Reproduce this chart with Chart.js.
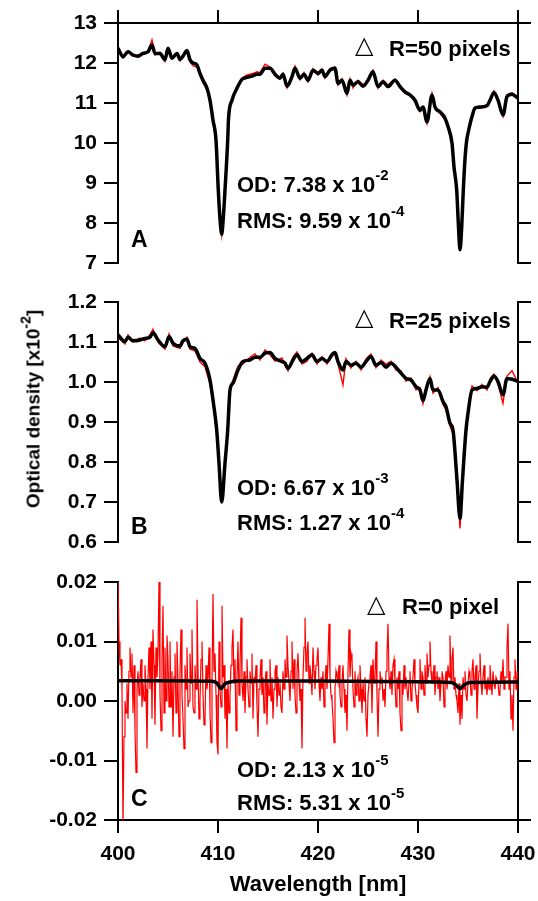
<!DOCTYPE html>
<html>
<head>
<meta charset="utf-8">
<script src="https://cdn.jsdelivr.net/npm/chart.js@4.4.1/dist/chart.umd.min.js"></script>
<style>
  html, body { margin: 0; padding: 0; background: #fff; }
  #fig { position: relative; width: 538px; height: 901px; overflow: hidden; }
  #fig canvas { position: absolute; left: 0; top: 0; }
  .lbl { position: absolute; font-family: 'Liberation Sans', Arial, sans-serif; font-weight: bold;
         font-size: 22px; line-height: 22px; white-space: nowrap; color: #000; }
  .lbl sup { font-size: 15px; position: relative; top: -12px; vertical-align: baseline; line-height: 0; }
  .tri { position: absolute; font-family: 'DejaVu Sans', sans-serif; font-size: 24px; line-height: 24px; color: #000; }
  .big { font-size: 23px; line-height: 23px; }
  .ytitle { font-size: 19px; line-height: 19px; transform: translate(-50%, -50%) rotate(-90deg); }
  .ytitle sup { font-size: 14px; top: -9px; }
</style>
</head>
<body>
<div id="fig">
  <canvas id="panelA" width="538" height="901"></canvas>
  <canvas id="panelB" width="538" height="901"></canvas>
  <canvas id="panelC" width="538" height="901"></canvas>

  <div class="tri" style="left:355px; top:33px">△</div>
  <div class="lbl" style="left:389px; top:38px">R=50 pixels</div>
  <div class="lbl" style="left:237px; top:174px">OD: 7.38 x 10<sup>-2</sup></div>
  <div class="lbl" style="left:237px; top:210px">RMS: 9.59 x 10<sup>-4</sup></div>
  <div class="lbl big" style="left:131px; top:228px">A</div>

  <div class="tri" style="left:355px; top:305px">△</div>
  <div class="lbl" style="left:389px; top:310px">R=25 pixels</div>
  <div class="lbl" style="left:237px; top:477px">OD: 6.67 x 10<sup>-3</sup></div>
  <div class="lbl" style="left:237px; top:512px">RMS: 1.27 x 10<sup>-4</sup></div>
  <div class="lbl big" style="left:131px; top:515px">B</div>

  <div class="tri" style="left:367px; top:592px">△</div>
  <div class="lbl" style="left:402px; top:596px">R=0 pixel</div>
  <div class="lbl" style="left:237px; top:759px">OD: 2.13 x 10<sup>-5</sup></div>
  <div class="lbl" style="left:237px; top:792px">RMS: 5.31 x 10<sup>-5</sup></div>
  <div class="lbl big" style="left:131px; top:787px">C</div>

  <div class="lbl ytitle" style="left:33px; top:409px">Optical density [x10<sup>-2</sup>]</div>
</div>

<script>
/* Panel A : R = 50 pixels (fit = black, measured = red) */
const waveA = [400.0, 400.5, 401.0, 401.5, 402.0, 402.5, 403.0, 403.4, 403.7, 404.2,
  404.7, 405.0, 405.4, 405.9, 406.2, 406.5, 406.9, 407.2, 407.5, 407.9,
  408.2, 408.5, 408.9, 409.2, 409.5, 409.8, 410.03, 410.2, 410.37, 410.52,
  410.7, 410.97, 411.05, 411.4, 411.9, 412.4, 412.9, 413.4, 413.9, 414.2,
  414.7, 415.2, 415.7, 416.2, 416.5, 416.9, 417.4, 417.7, 418.2, 418.6,
  419.0, 419.5, 420.0, 420.4, 420.7, 421.2, 421.7, 422.0, 422.4, 422.9,
  423.2, 423.5, 424.0, 424.5, 425.0, 425.5, 426.0, 426.5, 427.0, 427.7,
  428.2, 428.7, 429.2, 429.7, 430.2, 430.5, 430.9, 431.4, 431.7, 432.2,
  432.7, 433.0, 433.4, 433.6, 433.87, 434.05, 434.2, 434.37, 434.53, 434.7,
  434.87, 435.05, 435.4, 435.7, 436.2, 436.9, 437.2, 437.6, 438.0, 438.5,
  438.9, 439.4, 440.0];
const blackA = [12.37, 12.16, 12.28, 12.20, 12.17, 12.24, 12.28, 12.45, 12.24, 12.24,
  12.08, 12.37, 12.12, 12.24, 12.09, 12.17, 12.31, 12.08, 12.00, 11.95,
  11.74, 11.57, 11.37, 11.07, 10.57, 10.07, 8.82, 8.10, 7.72, 8.10,
  8.82, 10.07, 10.60, 11.07, 11.37, 11.59, 11.64, 11.67, 11.72, 11.72,
  11.87, 11.87, 11.72, 11.62, 11.72, 11.42, 11.66, 11.87, 11.62, 11.72,
  11.57, 11.82, 11.74, 11.82, 11.66, 11.82, 11.87, 11.49, 11.57, 11.24,
  11.57, 11.45, 11.53, 11.42, 11.57, 11.78, 11.41, 11.53, 11.41, 11.57,
  11.41, 11.28, 11.20, 11.07, 10.82, 10.90, 10.53, 11.20, 10.90, 10.78,
  10.62, 10.41, 10.00, 9.40, 8.82, 7.90, 7.33, 7.90, 8.82, 9.60,
  10.07, 10.30, 10.66, 10.87, 10.90, 10.93, 11.07, 11.26, 11.07, 10.70,
  11.16, 11.22, 11.12];
const redA = [12.33, 12.12, 12.30, 12.17, 12.20, 12.21, 12.30, 12.58, 12.20, 12.27,
  12.04, 12.33, 12.15, 12.20, 12.05, 12.20, 12.27, 12.03, 11.93, 11.90,
  11.68, 11.50, 11.33, 11.03, 10.52, 10.02, 8.78, 8.05, 7.70, 8.12,
  8.85, 10.10, 10.65, 11.12, 11.42, 11.62, 11.70, 11.73, 11.78, 11.76,
  11.97, 11.90, 11.68, 11.66, 11.75, 11.38, 11.70, 11.92, 11.58, 11.76,
  11.53, 11.86, 11.70, 11.85, 11.62, 11.86, 11.90, 11.45, 11.61, 11.20,
  11.60, 11.38, 11.57, 11.46, 11.53, 11.82, 11.37, 11.57, 11.45, 11.60,
  11.38, 11.24, 11.22, 11.03, 10.78, 10.86, 10.49, 11.24, 10.86, 10.74,
  10.58, 10.38, 9.96, 9.36, 8.80, 7.86, 7.30, 7.88, 8.85, 9.64,
  10.10, 10.34, 10.70, 10.90, 10.86, 10.97, 11.03, 11.30, 11.03, 10.66,
  11.20, 11.26, 11.10];

/* Panel B : R = 25 pixels */
const waveB = [400.0, 400.7, 401.0, 401.5, 402.2, 402.7, 403.2, 403.5, 404.0, 404.7,
  405.1, 405.5, 406.2, 406.5, 406.9, 407.2, 407.7, 408.2, 408.7, 409.2,
  409.5, 409.87, 410.1, 410.37, 410.7, 410.97, 411.2, 411.5, 412.0, 412.5,
  413.2, 413.7, 414.2, 414.7, 415.2, 415.7, 416.4, 416.7, 417.0, 417.5,
  417.9, 418.4, 418.9, 419.4, 419.9, 420.4, 420.9, 421.4, 421.7, 422.0,
  422.5, 422.8, 423.3, 423.8, 424.3, 424.8, 425.3, 425.8, 426.3, 426.8,
  427.3, 427.8, 428.3, 428.8, 429.3, 429.8, 430.2, 430.5, 430.8, 431.2,
  431.5, 432.0, 432.5, 432.8, 433.2, 433.5, 433.9, 434.2, 434.45, 434.8,
  435.0, 435.4, 435.9, 436.4, 436.9, 437.2, 437.6, 438.0, 438.5, 438.9,
  439.4, 440.0];
const blackB = [1.118, 1.101, 1.112, 1.103, 1.105, 1.109, 1.112, 1.123, 1.105, 1.088,
  1.114, 1.097, 1.090, 1.103, 1.107, 1.088, 1.084, 1.059, 1.047, 1.005,
  0.955, 0.880, 0.797, 0.700, 0.797, 0.880, 0.980, 0.997, 1.030, 1.051,
  1.055, 1.062, 1.062, 1.072, 1.074, 1.059, 1.051, 1.047, 1.034, 1.055,
  1.068, 1.051, 1.059, 1.068, 1.051, 1.059, 1.051, 1.068, 1.074, 1.051,
  1.030, 1.051, 1.042, 1.047, 1.037, 1.051, 1.064, 1.042, 1.049, 1.037,
  1.047, 1.037, 1.022, 1.009, 1.005, 0.988, 0.980, 0.953, 0.980, 1.009,
  0.980, 0.980, 0.951, 0.938, 0.897, 0.880, 0.755, 0.659, 0.755, 0.880,
  0.922, 0.980, 0.984, 0.988, 0.987, 1.001, 1.015, 1.001, 0.968, 1.009,
  1.007, 1.001];
const redB = [1.112, 1.095, 1.118, 1.100, 1.110, 1.103, 1.118, 1.132, 1.100, 1.082,
  1.120, 1.090, 1.084, 1.100, 1.112, 1.082, 1.078, 1.050, 1.038, 0.995,
  0.945, 0.870, 0.790, 0.700, 0.800, 0.890, 0.985, 1.005, 1.040, 1.045,
  1.062, 1.070, 1.055, 1.080, 1.068, 1.052, 1.060, 1.042, 1.028, 1.062,
  1.075, 1.045, 1.052, 1.072, 1.045, 1.064, 1.045, 1.072, 1.068, 1.045,
  0.993, 1.058, 1.035, 1.052, 1.030, 1.058, 1.070, 1.036, 1.055, 1.044,
  1.052, 1.030, 1.028, 1.002, 1.010, 0.980, 0.986, 0.946, 0.985, 1.014,
  0.972, 0.986, 0.944, 0.930, 0.890, 0.870, 0.745, 0.634, 0.750, 0.870,
  0.930, 0.990, 0.978, 0.994, 0.980, 1.008, 1.020, 0.995, 0.947, 1.015,
  1.028, 0.998];

/* Panel C : R = 0 pixel, values in units of 1e-3 */
const waveC = [400, 405, 409.4, 409.9, 410.3, 410.7, 411.2, 412, 420, 430,
  433.3, 433.8, 434.2, 434.6, 435.2, 440];
const blackC = [3.4, 3.4, 3.3, 3.0, 2.1, 2.9, 3.2, 3.35, 3.35, 3.25,
  3.1, 2.7, 2.1, 2.7, 3.1, 3.2];
// measured spectrum, one value every 0.1 nm from 400.0 nm (one row per nm)
const redCStart = 400;
const redCStep = 0.1;
const redC = [
  21, 10, 6, 7, 2, -21, -6, 0, -2, 3,
  -3, 5, 9, 4, 8, -2, 6, -5, -12, 2,
  5, 1, 4, 7, -1, 3, 0, 6, 2, -8,
  4, 9, 2, 10, -3, 12, 6, -4, 9, 4,
  8, 20, 1, -5, 7, 16, -2, 9, 0, 11,
  7, -1, 10, -1, 5, -6, 4, 8, -2, 10,
  3, -6, 5, 12, 1, -3, -8, 6, 2, 9,
  -1, 0, 8, 3, 12, -1, -2, 6, 2, 17,
  5, -3, 0, 7, 10, 1, -4, -3, 6, 2,
  4, 9, -2, -7, 3, 18, 5, 8, 1, -7,
  -9, 10, 2, -1, 16, 4, 6, -3, 2, -8,
  3, -2, 1, 6, 9, 12, 3, 7, -5, 4,
  10, 1, 6, 14, 3, 0, 5, -2, 4, 7,
  2, -1, 5, 3, 8, -3, 4, 3, 6, -1,
  -6, 2, 4, 7, 1, 4, -2, 3, 5, -4,
  3, 1, 7, 0, 4, -3, 2, 5, 6, -1,
  4, 1, 3, -1, -2, 5, 2, 7, 4, 11,
  6, 3, 0, 5, 10, 2, 7, 1, -2, 5,
  8, 3, 0, 2, -8, 4, 9, 14, 5, 8,
  10, 3, 6, 4, 1, 9, 5, 2, 6, 7,
  9, 3, 0, 4, 2, 5, -1, 3, 6, 2,
  7, 13, 4, 1, 0, -3, -7, 2, 5, 4,
  3, 6, 1, -1, 3, 6, 2, -2, 1, -5,
  5, 12, 4, 8, 7, 2, -1, 5, 1, 3,
  4, 0, 6, 2, -2, 3, 0, 4, -3, -6,
  1, 3, 4, 6, -2, 7, 3, 4, 10, 1,
  -6, 2, 5, 3, 4, 0, 2, -1, 5, 8,
  13, 4, 2, 5, 1, 6, 7, 3, -1, 4,
  2, 5, -2, -5, 3, 1, 6, 2, 4, 4,
  0, 3, 5, 0, 2, 4, 7, 3, 1, -1,
  -2, 3, 7, 2, 5, 4, 1, 6, 3, 8,
  4, 6, 10, 5, 3, 3, 6, 1, 4, 5,
  2, 4, 0, 3, 5, 4, -1, 3, 5, 2,
  6, 4, 11, 3, 7, 9, 2, 4, 1, 0,
  -2, 3, -4, 1, -3, 4, 2, 5, 1, 0,
  3, 5, 4, 1, 5, 7, 2, 4, 6, -3,
  2, 5, 8, 3, 1, 4, 6, 2, 3, 1,
  4, 2, 6, 3, 1, 5, 3, 2, 4, 4,
  3, 1, 2, 5, 3, 7, 2, 4, 4, 9,
  13, 2, 5, -3, 1, -5, 4, 7, 2, 5,
  4];
const redCWave = redC.map((v, i) => +(redCStart + i * redCStep).toFixed(1));

(function() {
  const FONT = "'Liberation Sans', Arial, sans-serif";
  const tickFont = { family: FONT, size: 21, weight: 'bold' };

  function pairs(xs, ys) {
    return xs.map((x, i) => ({ x: x, y: ys[i] }));
  }

  function gridOpts(len) {
    return {
      drawOnChartArea: false,
      drawTicks: true,
      tickLength: len,
      tickWidth: 2,
      tickColor: '#000',
      lineWidth: 2,
      color: '#000'
    };
  }

  const border = { display: true, color: '#000', width: 2 };

  // one chart per panel, all sharing the same plot left/right edges
  function makePanel(id, p) {
    return new Chart(document.getElementById(id), {
      type: 'line',
      data: {
        datasets: [
          { data: pairs(p.fitX, p.fitY), borderColor: '#000', borderWidth: 3.5,
            pointRadius: 0, cubicInterpolationMode: 'monotone' },
          { data: pairs(p.rawX, p.rawY), borderColor: '#ff0000', borderWidth: p.redWidth,
            pointRadius: 0, tension: 0 }
        ]
      },
      options: {
        responsive: false,
        animation: false,
        events: [],
        layout: { padding: { top: p.padTop, bottom: p.padBottom, left: 0, right: 0 } },
        plugins: { legend: { display: false }, tooltip: { enabled: false } },
        scales: {
          x: {
            type: 'linear', min: 400, max: 440,
            position: p.xPos,
            display: p.xShow,
            // fixed height, and no extra side margin for the 400/440 labels
            afterFit: s => { s.height = p.xHeight; s.paddingLeft = 0; s.paddingRight = 0; },
            ticks: { stepSize: 10, display: p.xLabels, color: '#000', font: tickFont,
                     padding: 9, maxRotation: 0, autoSkip: false },
            grid: gridOpts(13),
            border: border,
            title: { display: p.xLabels, text: 'Wavelength [nm]', color: '#000',
                     font: { family: FONT, size: 22, weight: 'bold' },
                     padding: { top: 0, bottom: 3 } }
          },
          y: {
            type: 'linear', min: p.yMin, max: p.yMax, position: 'left',
            afterFit: s => { s.width = 118; },
            ticks: { stepSize: p.yStep, color: '#000', font: tickFont, padding: 7,
                     callback: p.yLabel },
            grid: gridOpts(14),
            border: border
          },
          y2: {
            type: 'linear', min: p.yMin, max: p.yMax, position: 'right',
            afterFit: s => { s.width = 20; },
            ticks: { stepSize: p.yStep, display: false },
            grid: gridOpts(13),
            border: border
          }
        }
      }
    });
  }

  makePanel('panelA', {
    fitX: waveA, fitY: blackA, rawX: waveA, rawY: redA, redWidth: 1.4,
    yMin: 7, yMax: 13, yStep: 1, yLabel: v => v.toFixed(0),
    xPos: 'top', xShow: true, xLabels: false, xHeight: 13,
    padTop: 10, padBottom: 901 - 263
  });

  makePanel('panelB', {
    fitX: waveB, fitY: blackB, rawX: waveB, rawY: redB, redWidth: 1.4,
    yMin: 0.6, yMax: 1.2, yStep: 0.1, yLabel: v => v.toFixed(1),
    xPos: 'bottom', xShow: false, xLabels: false, xHeight: 0,
    padTop: 302, padBottom: 901 - 542
  });

  makePanel('panelC', {
    fitX: waveC, fitY: blackC, rawX: redCWave, rawY: redC, redWidth: 1.2,
    yMin: -20, yMax: 20, yStep: 10, yLabel: v => (v / 1000).toFixed(2),
    xPos: 'bottom', xShow: true, xLabels: true, xHeight: 81,
    padTop: 582, padBottom: 0
  });
})();
</script>
</body>
</html>
